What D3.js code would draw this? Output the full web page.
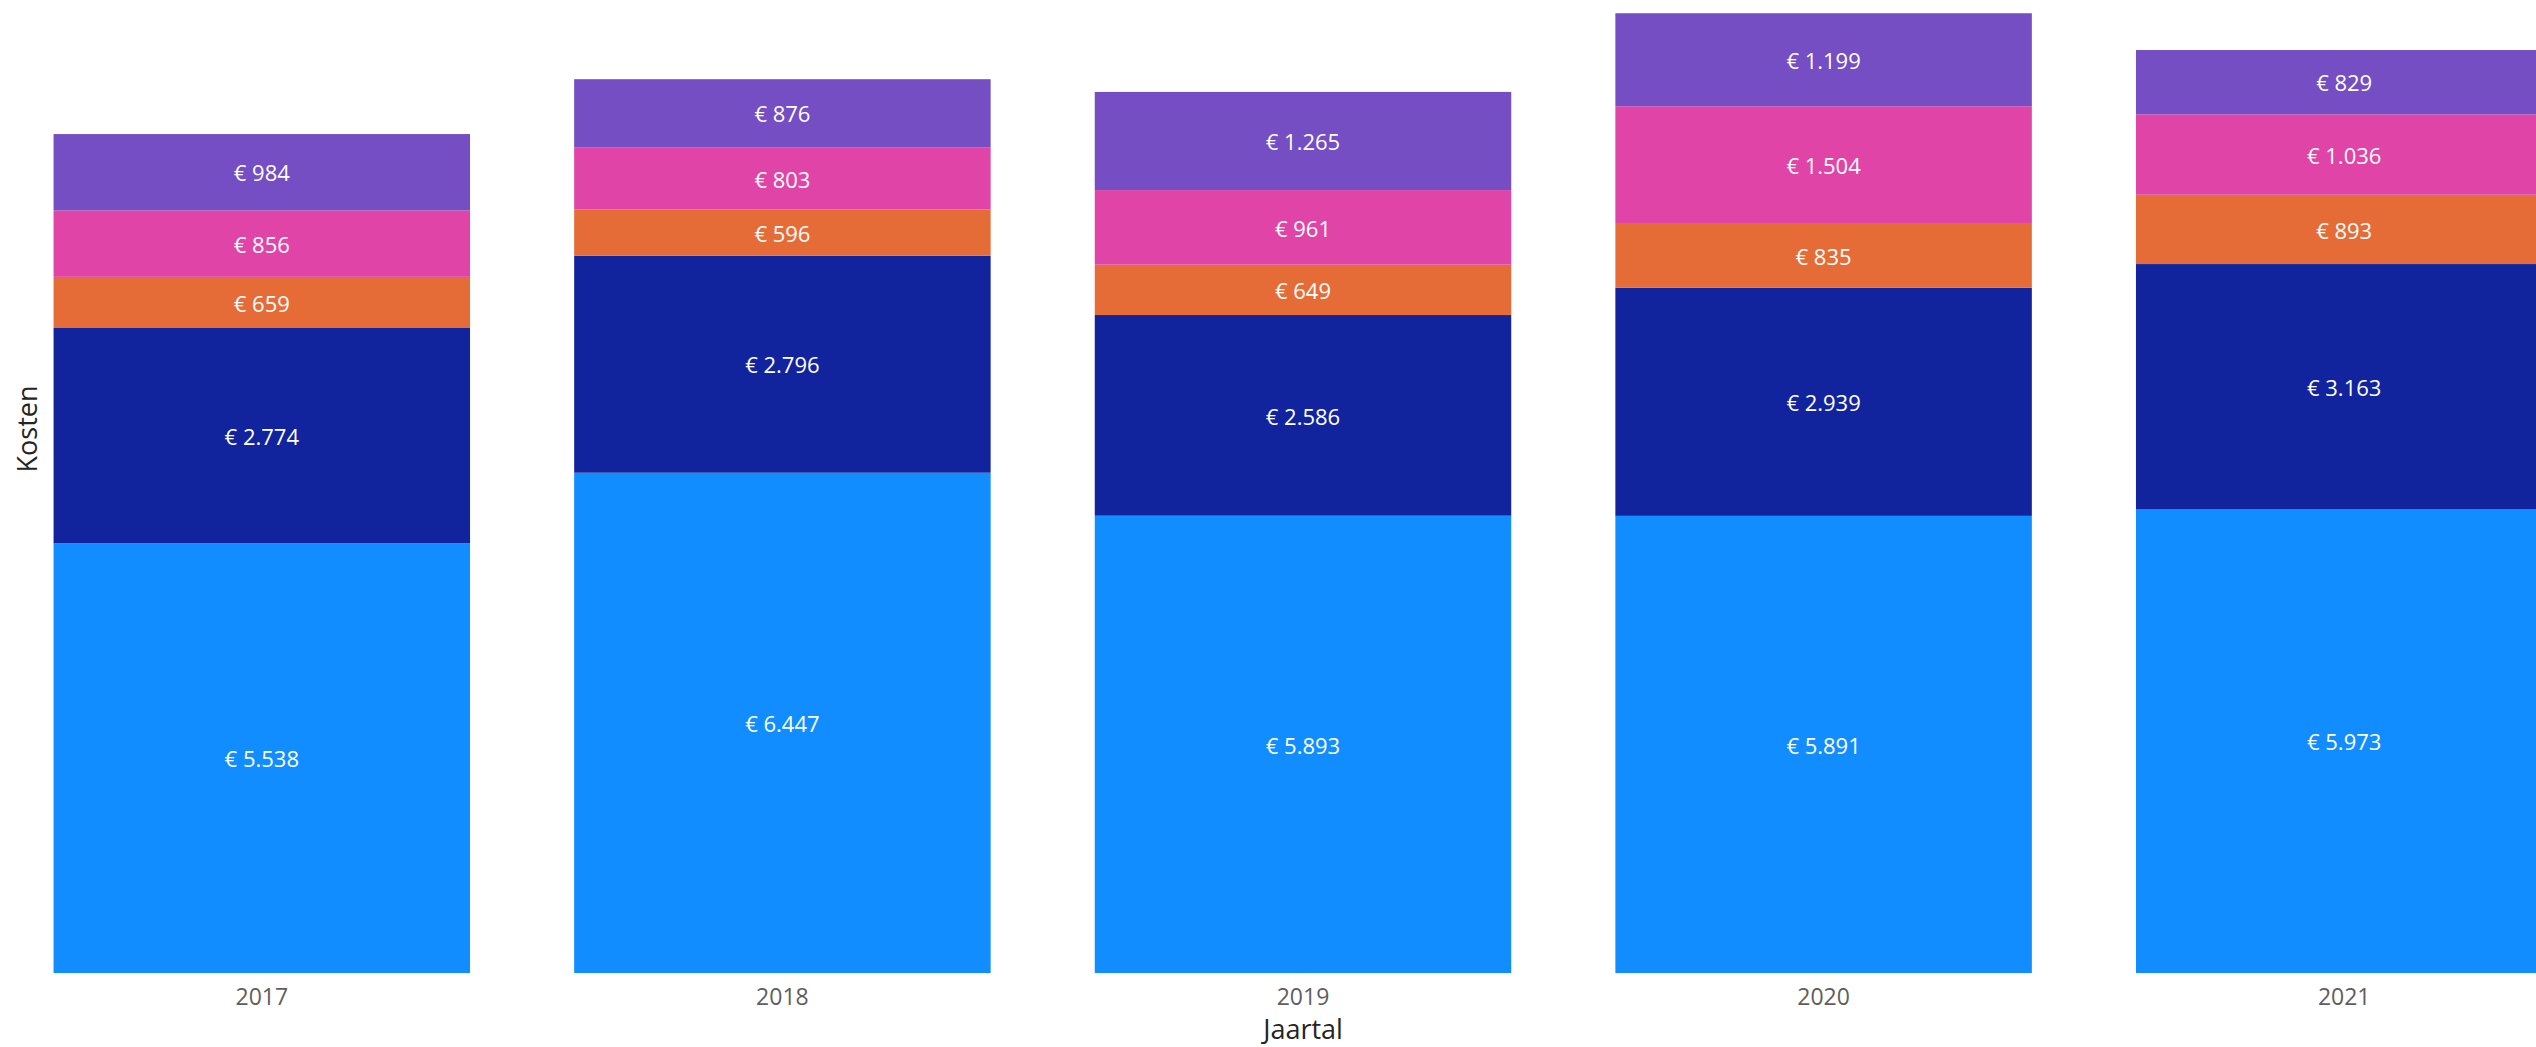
<!DOCTYPE html>
<meta charset="utf-8">
<style>
    body {
        margin: 0;
        padding: 0;
        background: #ffffff;
        font-family: "Open Sans", "Noto Sans", sans-serif;
        overflow: hidden;
    }

    svg {
        display: block;
    }

    .x-axis text {
        fill: #605E5C;
        font-size: 23px;
    }

    .bar-label {
        fill: #ffffff;
        font-size: 22px;
    }

    .axis-title {
        fill: #252423;
        font-size: 27px;
    }
</style>
<svg></svg>
<script src="https://d3js.org/d3.v7.min.js"></script>
<script>
    var width = 2536,
        height = 1047;

    // data
    var years = ["2017", "2018", "2019", "2020", "2021"];
    var seriesNames = ["Categorie 1", "Categorie 2", "Categorie 3", "Categorie 4", "Categorie 5"];
    var cat1 = [5538, 6447, 5893, 5891, 5973];
    var cat2 = [2774, 2796, 2586, 2939, 3163];
    var cat3 = [659, 596, 649, 835, 893];
    var cat4 = [856, 803, 961, 1504, 1036];
    var cat5 = [984, 876, 1265, 1199, 829];
    var colors = ["#118DFF", "#12239E", "#E66C37", "#E044A7", "#744EC2"];

    var seriesValues = [cat1, cat2, cat3, cat4, cat5];

    var rows = years.map(function(y, i) {
        var r = { year: y };
        seriesNames.forEach(function(s, j) {
            r[s] = seriesValues[j][i];
        });
        return r;
    });

    var svg = d3.select("svg")
        .attr("width", width)
        .attr("height", height);

    // plot runs past the right edge, like the original
    var x = d3.scaleBand()
        .domain(years)
        .range([1.5, 2604.5])
        .paddingInner(0.2)
        .paddingOuter(0.1);

    var y = d3.scaleLinear()
        .domain([0, 12500])
        .range([973, 3]);

    var color = d3.scaleOrdinal().domain(seriesNames).range(colors);

    var nl = d3.formatLocale({
        decimal: ",",
        thousands: ".",
        grouping: [3],
        currency: ["€ ", ""]
    });
    var fmt = nl.format("$,.0f");

    var stacked = d3.stack().keys(seriesNames)(rows);

    var layers = svg.append("g")
        .selectAll("g")
        .data(stacked)
        .enter().append("g")
        .attr("fill", function(d) {
            return color(d.key);
        });

    layers.selectAll("rect")
        .data(function(d) {
            return d;
        })
        .enter().append("rect")
        .attr("x", function(d) {
            return x(d.data.year);
        })
        .attr("width", x.bandwidth())
        .attr("y", function(d) {
            return y(d[1]);
        })
        .attr("height", function(d) {
            return y(d[0]) - y(d[1]);
        });

    layers.selectAll("text")
        .data(function(d) {
            return d;
        })
        .enter().append("text")
        .attr("class", "bar-label")
        .attr("text-anchor", "middle")
        .attr("x", function(d) {
            return x(d.data.year) + x.bandwidth() / 2;
        })
        .attr("y", function(d) {
            return (y(d[0]) + y(d[1])) / 2;
        })
        .attr("dy", "0.42em")
        .text(function(d) {
            return fmt(d[1] - d[0]);
        });

    var xAxis = svg.append("g")
        .attr("class", "x-axis")
        .attr("transform", "translate(0," + y(0) + ")")
        .call(d3.axisBottom(x).tickSize(0).tickPadding(16));

    xAxis.select(".domain").remove();
    xAxis.attr("font-family", null).attr("font-size", null);

    svg.append("text")
        .attr("class", "axis-title")
        .attr("text-anchor", "middle")
        .attr("x", (x.range()[0] + x.range()[1]) / 2)
        .attr("y", 1029)
        .attr("dy", "0.36em")
        .text("Jaartal");

    svg.append("text")
        .attr("class", "axis-title")
        .attr("text-anchor", "middle")
        .attr("transform", "translate(27,429) rotate(-90)")
        .attr("dy", "0.36em")
        .text("Kosten");
</script>
